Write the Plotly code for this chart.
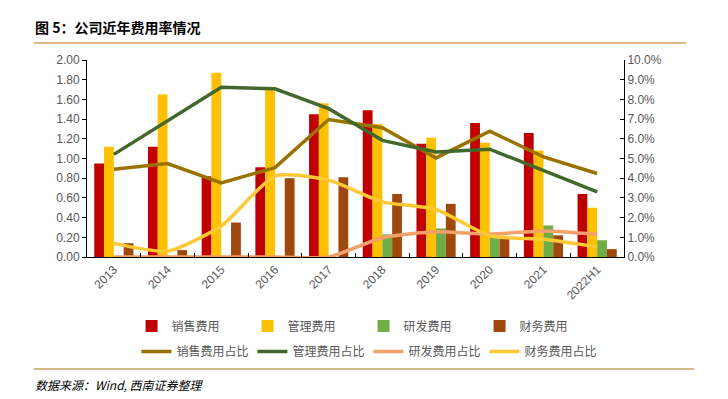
import plotly.graph_objects as go

categories = ["2013", "2014", "2015", "2016", "2017", "2018", "2019", "2020", "2021", "2022H1"]

sales_exp = [0.95, 1.12, 0.82, 0.91, 1.45, 1.49, 1.15, 1.36, 1.26, 0.64]
admin_exp = [1.12, 1.65, 1.87, 1.72, 1.56, 1.35, 1.21, 1.16, 1.08, 0.50]
rd_exp = [0.00, 0.00, 0.00, 0.00, 0.00, 0.23, 0.29, 0.21, 0.32, 0.17]
fin_exp = [0.14, 0.07, 0.35, 0.80, 0.81, 0.64, 0.54, 0.20, 0.22, 0.08]

sales_ratio = [0.0445, 0.0474, 0.0376, 0.0454, 0.0698, 0.0656, 0.0503, 0.0639, 0.0508, 0.0424]
admin_ratio = [0.0521, 0.0690, 0.0862, 0.0854, 0.0753, 0.0592, 0.0533, 0.0547, 0.0437, 0.0331]
rd_ratio = [0.0, 0.0, 0.0, 0.0, 0.0, 0.0098, 0.0128, 0.0116, 0.0132, 0.0115]
fin_ratio = [0.0069, 0.0030, 0.0157, 0.0411, 0.0390, 0.0280, 0.0241, 0.0108, 0.0090, 0.0052]

left_ticks = [0, 0.2, 0.4, 0.6, 0.8, 1.0, 1.2, 1.4, 1.6, 1.8, 2.0]
right_ticks = [0, 0.01, 0.02, 0.03, 0.04, 0.05, 0.06, 0.07, 0.08, 0.09, 0.10]

CJK = "Noto Sans CJK SC"
GRAY = "#595959"

fig = go.Figure()

bar_specs = [
    ("销售费用", sales_exp, "#C00000"),
    ("管理费用", admin_exp, "#FFC000"),
    ("研发费用", rd_exp, "#70AD47"),
    ("财务费用", fin_exp, "#9E480E"),
]
for name, vals, col in bar_specs:
    fig.add_trace(go.Bar(x=categories, y=vals, name=name, marker_color=col,
                         marker_line_width=0, yaxis="y", legend="legend"))

line_specs = [
    ("销售费用占比", sales_ratio, "#997300", "linear"),
    ("管理费用占比", admin_ratio, "#43682B", "linear"),
    ("研发费用占比", rd_ratio, "#F4A06A", "spline"),
    ("财务费用占比", fin_ratio, "#FFC935", "spline"),
]
for name, vals, col, shp in line_specs:
    fig.add_trace(go.Scatter(x=categories, y=vals, name=name, mode="lines",
                             line=dict(color=col, width=3.5, shape=shp, smoothing=0.6),
                             yaxis="y2", legend="legend2"))

fig.update_layout(
    width=728, height=399,
    margin=dict(l=87, r=104, t=60, b=142),
    paper_bgcolor="white", plot_bgcolor="white",
    barmode="group", bargap=0.27, bargroupgap=0,
    font=dict(family="Liberation Sans, Arial", size=12, color=GRAY),
    xaxis=dict(type="category", showline=True, linecolor="black", linewidth=1,
               ticks="inside", ticklen=4, tickcolor="black", tickson="boundaries",
               tickangle=-45, tickfont=dict(size=12, color=GRAY), showgrid=False),
    yaxis=dict(range=[0, 2.0], tickvals=left_ticks, tickformat=".2f",
               showline=True, linecolor="black", linewidth=1, ticks="outside",
               ticklen=4, tickcolor="black", showgrid=False, zeroline=False,
               tickfont=dict(size=12, color=GRAY)),
    yaxis2=dict(range=[0, 0.10], tickvals=right_ticks, tickformat=".1%",
                overlaying="y", side="right", showline=True, linecolor="black",
                linewidth=1, ticks="inside", ticklen=4, tickcolor="black",
                showgrid=False, zeroline=False, tickfont=dict(size=12, color=GRAY)),
    legend=dict(orientation="h", x=0.083, y=-0.35, xanchor="left", yanchor="middle",
                entrywidth=71, itemwidth=30, font=dict(family=CJK, size=12, color=GRAY),
                bgcolor="rgba(0,0,0,0)", traceorder="normal"),
    legend2=dict(orientation="h", x=0.092, y=-0.48, xanchor="left", yanchor="middle",
                 entrywidth=71, itemwidth=30, font=dict(family=CJK, size=12, color=GRAY),
                 bgcolor="rgba(0,0,0,0)", traceorder="normal"),
    showlegend=True,
)

fig.add_annotation(text="<b>图 5：公司近年费用率情况</b>", xref="paper", yref="paper",
                   x=-54/537, y=1 + 33/197, xanchor="left", yanchor="middle",
                   showarrow=False, font=dict(family=CJK, size=14, color="black"))
fig.add_annotation(text="<i>数据来源：Wind, 西南证券整理</i>", xref="paper", yref="paper",
                   x=-54/537, y=-(384 - 257) / 197, xanchor="left", yanchor="middle",
                   showarrow=False, font=dict(family=CJK, size=12, color="black"))

fig.add_shape(type="line", xref="paper", yref="paper",
              x0=-53/537, x1=(686 - 87)/537, y0=1 + 17/197, y1=1 + 17/197,
              line=dict(color="#DDA15E", width=1.5))
fig.add_shape(type="line", xref="paper", yref="paper",
              x0=-53/537, x1=(694 - 87)/537, y0=-(369 - 257)/197, y1=-(369 - 257)/197,
              line=dict(color="#C8A060", width=1.5))

fig.write_html("out.html", config={"displayModeBar": False},
               post_script="document.body.style.margin='0px';")
